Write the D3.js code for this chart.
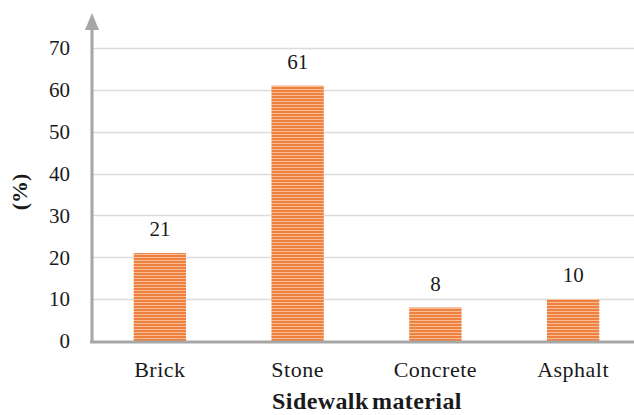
<!DOCTYPE html>
<html>
<head>
<meta charset="utf-8">
<script src="https://cdn.jsdelivr.net/npm/d3@7"></script>
<style>
  html, body { margin: 0; padding: 0; background: #fff; }
  svg { display: block; }
</style>
</head>
<body>
<svg id="chart" width="634" height="415"></svg>
<script>
// Share of sidewalk surfaces by material (%)
const categories = ["Brick", "Stone", "Concrete", "Asphalt"];
const values = [21, 61, 8, 10];
const yTicks = [0, 10, 20, 30, 40, 50, 60, 70];
const yLabel = "(%)";
const xLabel = "Sidewalk material";

const FONT = "'Liberation Serif', 'Times New Roman', Tinos, 'DejaVu Serif', serif";

const svg = d3.select("#chart")
  .attr("font-family", FONT)
  .style("font-family", FONT);
const W = 634;

const x = d3.scaleBand()
  .domain(categories)
  .range([91, 642])
  .paddingInner(0.62)
  .paddingOuter(0.31);

const y = d3.scaleLinear().domain([0, 70]).range([341, 48]);

// horizontal stripe fill for the bars
const defs = svg.append("defs");
const pat = defs.append("pattern")
  .attr("id", "stripes")
  .attr("patternUnits", "userSpaceOnUse")
  .attr("width", 6).attr("height", 3);
pat.append("rect").attr("width", 6).attr("height", 3).attr("fill", "#ef8140");
pat.append("rect").attr("y", 2).attr("width", 6).attr("height", 1).attr("fill", "#f8bd95");

// gridlines
svg.append("g").selectAll("line")
  .data(yTicks.filter(d => d > 0))
  .join("line")
  .attr("x1", 93).attr("x2", W)
  .attr("y1", d => Math.round(y(d)) + 0.5)
  .attr("y2", d => Math.round(y(d)) + 0.5)
  .attr("stroke", "#dcdcdc").attr("stroke-width", 1.5);

const txt = sel => sel.attr("fill", "#1a1a1a").style("font-family", FONT);

// y tick labels
svg.append("g").selectAll("text")
  .data(yTicks)
  .join("text")
  .call(txt)
  .attr("x", 70)
  .attr("y", d => y(d))
  .attr("dy", "0.35em")
  .attr("text-anchor", "end")
  .attr("font-size", 21)
  .text(d => d);

// bars
svg.append("g").selectAll("rect")
  .data(values)
  .join("rect")
  .attr("x", (d, i) => x(categories[i]))
  .attr("width", x.bandwidth())
  .attr("y", d => y(d))
  .attr("height", d => y(0) - y(d))
  .attr("fill", "url(#stripes)");

// value labels
svg.append("g").selectAll("text")
  .data(values)
  .join("text")
  .call(txt)
  .attr("x", (d, i) => x(categories[i]) + x.bandwidth() / 2)
  .attr("y", d => y(d) - 17)
  .attr("text-anchor", "middle")
  .attr("font-size", 21)
  .text(d => d);

// baseline axis
svg.append("line")
  .attr("x1", 90).attr("x2", W)
  .attr("y1", y(0) + 1).attr("y2", y(0) + 1)
  .attr("stroke", "#a6a6a6").attr("stroke-width", 3);

// vertical axis with arrow head
svg.append("line")
  .attr("x1", 92).attr("x2", 92)
  .attr("y1", y(0) + 2).attr("y2", 28)
  .attr("stroke", "#a6a6a6").attr("stroke-width", 3);
svg.append("path")
  .attr("d", "M92,13 L99,30 L85,30 Z")
  .attr("fill", "#a6a6a6");

// category labels
svg.append("g").selectAll("text")
  .data(categories)
  .join("text")
  .call(txt)
  .attr("x", d => x(d) + x.bandwidth() / 2)
  .attr("y", 377)
  .attr("text-anchor", "middle")
  .attr("font-size", 22)
  .attr("letter-spacing", 0.5)
  .text(d => d);

// axis titles
svg.append("text")
  .call(txt)
  .attr("x", 367).attr("y", 409)
  .attr("text-anchor", "middle")
  .attr("font-size", 24)
  .attr("font-weight", "bold")
  .attr("letter-spacing", 0.4)
  .attr("word-spacing", -3)
  .text(xLabel);

svg.append("text")
  .call(txt)
  .attr("transform", "translate(27,192) rotate(-90)")
  .attr("text-anchor", "middle")
  .attr("font-size", 22)
  .attr("font-weight", "bold")
  .text(yLabel);
</script>
</body>
</html>
